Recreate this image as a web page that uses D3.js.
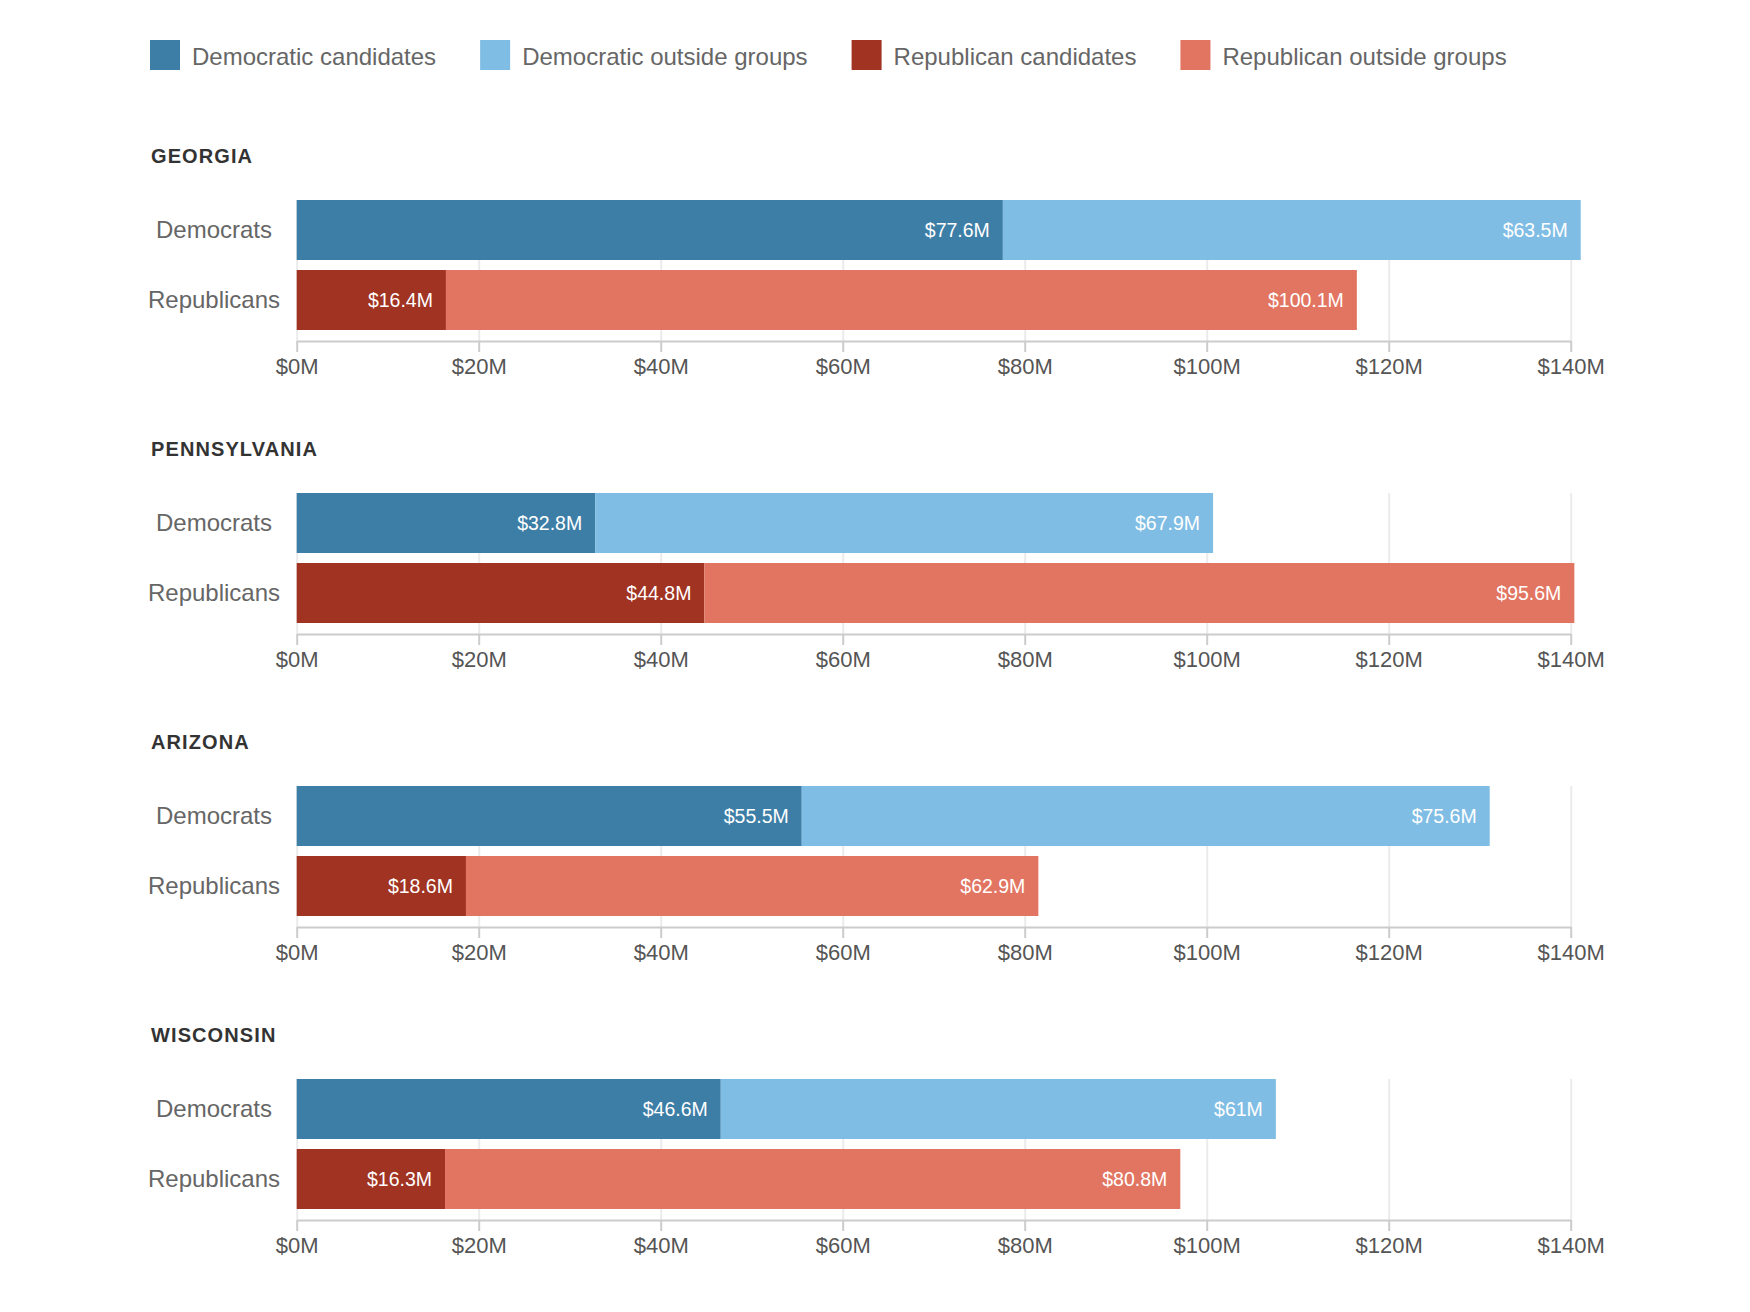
<!DOCTYPE html>
<html>
<head>
<meta charset="utf-8">
<script src="https://cdn.jsdelivr.net/npm/d3@7"></script>
<style>
  html, body { margin: 0; padding: 0; background: #fff; }
  svg { display: block; font-family: "Liberation Sans", Arial, Helvetica, sans-serif; }
</style>
</head>
<body>
<svg id="chart" width="1750" height="1312"></svg>
<script>
// ---- data ----
const states = ["GEORGIA", "PENNSYLVANIA", "ARIZONA", "WISCONSIN"];
const parties = ["Democrats", "Republicans"];
const seriesNames = ["Democratic candidates", "Democratic outside groups", "Republican candidates", "Republican outside groups"];
const demCandidates = [77.6, 32.8, 55.5, 46.6];
const demOutside    = [63.5, 67.9, 75.6, 61];
const repCandidates = [16.4, 44.8, 18.6, 16.3];
const repOutside    = [100.1, 95.6, 62.9, 80.8];
const tickValues = [0, 20, 40, 60, 80, 100, 120, 140];

// ---- styles ----
const colors = ["#3d7ea6", "#7fbde4", "#a13322", "#e27562"];

const svg = d3.select("#chart");

// legend
const legend = svg.append("g").attr("transform", "translate(150,40)");
let lx = 0;
seriesNames.forEach((name, i) => {
  const g = legend.append("g").attr("transform", `translate(${lx},0)`);
  g.append("rect").attr("width", 30).attr("height", 30).attr("fill", colors[i]);
  const t = g.append("text").attr("x", 42).attr("y", 17).attr("dy", "0.35em")
    .attr("font-size", 24).attr("fill", "#666").text(name);
  lx += 42 + t.node().getComputedTextLength() + 44;
});

const x = d3.scaleLinear().domain([0, 140]).range([296.7, 1570.7]);
const y = d3.scaleBand().domain(parties).range([0, 130]).paddingInner(10 / 70).paddingOuter(0);
const panelStep = 293;
const firstTop = 200;
const axisOffset = 141;

states.forEach((st, si) => {
  const top = firstTop + si * panelStep;
  const g = svg.append("g").attr("transform", `translate(0,${top})`);

  // title
  g.append("text").attr("x", 151).attr("y", -44).attr("dy", "0.35em")
    .attr("font-size", 20).attr("font-weight", 700).attr("letter-spacing", "1.1px")
    .attr("fill", "#333").text(st);

  // gridlines
  const grid = g.append("g").attr("transform", `translate(0,${axisOffset})`)
    .call(d3.axisBottom(x).tickValues(tickValues).tickSize(-axisOffset).tickFormat("").tickSizeOuter(0));
  grid.select(".domain").remove();
  grid.selectAll("line").attr("stroke", "#ebebeb").attr("stroke-width", 2);

  // bars
  const rows = [
    { party: "Democrats", vals: [demCandidates[si], demOutside[si]], cols: [colors[0], colors[1]] },
    { party: "Republicans", vals: [repCandidates[si], repOutside[si]], cols: [colors[2], colors[3]] }
  ];
  rows.forEach(r => {
    let acc = 0;
    r.vals.forEach((v, k) => {
      const x0 = acc, x1 = acc + v;
      g.append("rect")
        .attr("x", x(x0)).attr("y", y(r.party))
        .attr("width", x(x1) - x(x0)).attr("height", y.bandwidth())
        .attr("fill", r.cols[k]);
      g.append("text")
        .attr("x", x(x1) - 13).attr("y", y(r.party) + y.bandwidth() / 2).attr("dy", "0.35em")
        .attr("text-anchor", "end").attr("font-size", 19.5).attr("fill", "#fff")
        .text("$" + v + "M");
      acc = x1;
    });
    g.append("text")
      .attr("x", 214).attr("y", y(r.party) + y.bandwidth() / 2).attr("dy", "0.35em")
      .attr("text-anchor", "middle").attr("font-size", 24).attr("fill", "#666")
      .text(r.party);
  });

  // axis
  const ax = g.append("g").attr("transform", `translate(0,${axisOffset})`)
    .call(d3.axisBottom(x).tickValues(tickValues).tickSize(11).tickSizeOuter(0)
      .tickPadding(6).tickFormat(d => "$" + d + "M"));
  ax.select(".domain").attr("stroke", "#ccc").attr("stroke-width", 2);
  ax.selectAll(".tick line").attr("stroke", "#ccc").attr("stroke-width", 2);
  ax.selectAll(".tick text").attr("font-size", 22).attr("fill", "#555")
    .attr("font-family", "'Liberation Sans', Arial, sans-serif");
});
</script>
</body>
</html>
